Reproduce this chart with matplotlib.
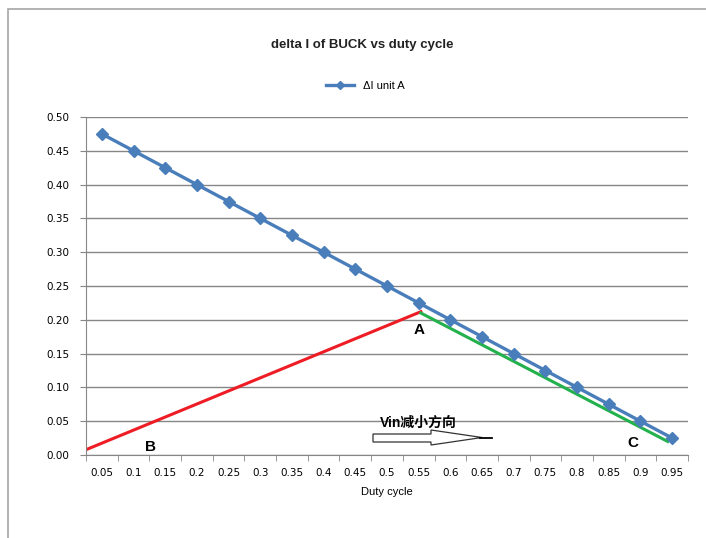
import matplotlib
matplotlib.use("Agg")
import matplotlib.pyplot as plt
from matplotlib.patches import Polygon, Rectangle
import numpy as np

plt.rcParams['font.family'] = ['Liberation Sans', 'Noto Sans CJK SC', 'DejaVu Sans']

# duty cycle categories and ripple current (A)
duty_labels = ['0.05', '0.1', '0.15', '0.2', '0.25', '0.3', '0.35', '0.4', '0.45', '0.5',
               '0.55', '0.6', '0.65', '0.7', '0.75', '0.8', '0.85', '0.9', '0.95']
delta_i = [0.475, 0.45, 0.425, 0.40, 0.375, 0.35, 0.325, 0.30, 0.275, 0.25,
           0.225, 0.20, 0.175, 0.15, 0.125, 0.10, 0.075, 0.05, 0.025]

# hand-drawn lines (x in category index, y in A)
red_x = [-0.44, 10.07]
red_y = [0.009, 0.212]
green_x = [10.07, 17.86]
green_y = [0.210, 0.020]

# point labels
pt_labels = ['A', 'B', 'C']
pt_x = [10.0, 1.55, 16.75]
pt_y = [0.185, 0.012, 0.018]

fig = plt.figure(figsize=(7.06, 5.38), dpi=100)

# outer chart frame
fig.patches.append(Rectangle((8 / 706, -0.1), 1.2, (538 - 9) / 538 + 0.1,
                             transform=fig.transFigure, fill=False,
                             edgecolor='#a6a6a6', linewidth=1.2))

ax = fig.add_axes([86 / 706, (538 - 455) / 538, (688 - 86) / 706, (455 - 117) / 538])

xs = np.arange(len(duty_labels))
ax.plot(xs, delta_i, color='#4a7ebb', linewidth=2.4, marker='D', markersize=6.5,
        label='ΔI unit A', zorder=3)
ax.plot(red_x, red_y, color='#ee1c24', linewidth=2.2, zorder=2)
ax.plot(green_x, green_y, color='#22b14c', linewidth=2.2, zorder=2)

ax.set_xlim(-0.5, len(duty_labels) - 0.5)
ax.set_ylim(0, 0.5)
ax.set_yticks(np.arange(0, 0.501, 0.05))
ax.set_yticklabels(['%.2f' % v for v in np.arange(0, 0.501, 0.05)], fontsize=7.5,
                   family='DejaVu Sans')
ax.set_xticks(xs)
ax.set_xticklabels(duty_labels, fontsize=7.5, family='DejaVu Sans')
ax.set_xticks(np.arange(-0.5, len(duty_labels)), minor=True)
ax.tick_params(axis='x', which='major', length=0, pad=9)
ax.tick_params(axis='x', which='minor', length=4, color='#868686', direction='out')
ax.tick_params(axis='y', length=4, color='#868686', pad=8)
ax.grid(axis='y', color='#868686', linewidth=1)
ax.set_axisbelow(True)
for s in ['top', 'right']:
    ax.spines[s].set_visible(False)
for s in ['left', 'bottom']:
    ax.spines[s].set_color('#868686')

ax.set_xlabel('Duty cycle', fontsize=8, labelpad=7)

for t, x, y in zip(pt_labels, pt_x, pt_y):
    ax.text(x, y, t, fontsize=11, fontweight='bold', ha='center', va='center')

ax.text(10.0, 0.048, 'Vin减小方向', fontsize=10, fontweight='bold', ha='center',
        va='center', family=['Liberation Sans', 'Noto Sans CJK SC'])

# block arrow below the text (axes-fraction coords)
def px(xp, yp):
    return ((xp - 86) / (688 - 86), (455 - yp) / (455 - 117))

arrow_pts = [px(373, 434), px(431, 434), px(431, 430), px(482, 437.5),
             px(431, 445), px(431, 442), px(373, 442)]
ax.add_patch(Polygon(arrow_pts, closed=True, transform=ax.transAxes,
                     facecolor='white', edgecolor='#333333', linewidth=0.9,
                     clip_on=False, zorder=4))
ax.plot([px(480, 437.5)[0], px(492, 437.5)[0]], [px(480, 437.5)[1], px(492, 437.5)[1]],
        transform=ax.transAxes, color='black', linewidth=1.3, clip_on=False, zorder=5)

fig.text(362 / 706, 1 - 45 / 538, 'delta I of BUCK vs duty cycle', fontsize=9.5,
         fontweight='bold', ha='center', va='center', color='#222222')
fig.legend(loc='center', bbox_to_anchor=(365 / 706, 1 - 86 / 538), frameon=False,
           fontsize=8, handlelength=2.5, markerscale=0.6)

fig.savefig('out.png', dpi=100)
